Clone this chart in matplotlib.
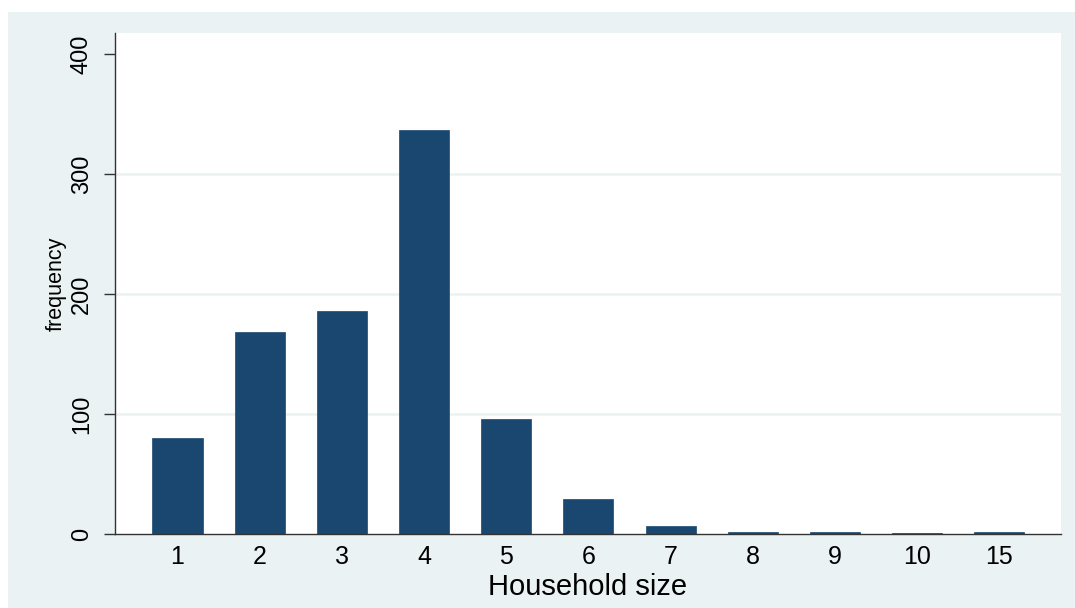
import matplotlib
matplotlib.use("Agg")
import matplotlib.pyplot as plt
from matplotlib.patches import Rectangle

categories = ["1", "2", "3", "4", "5", "6", "7", "8", "9", "10", "15"]
frequency = [80, 168, 186, 337, 96, 29, 7, 2, 2, 1, 2]
yticks = [0, 100, 200, 300, 400]
gridlines = [100, 200, 300]

plt.rcParams['font.family'] = ['Liberation Sans', 'DejaVu Sans']

W, H = 1075, 608
fig = plt.figure(figsize=(W / 100, H / 100), dpi=100)
fig.patch.set_facecolor('white')
bg = '#EAF2F3'
fig.add_artist(Rectangle((8 / W, 0), 1 - 8 / W, (H - 12) / H,
                         transform=fig.transFigure, facecolor=bg,
                         edgecolor='none', zorder=0))

left, right, top, bottom = 115, 1061, 33, 534
ax = fig.add_axes([left / W, (H - bottom) / H, (right - left) / W, (bottom - top) / H])
ax.set_facecolor('white')

pos = list(range(len(categories)))
ax.bar(pos, frequency, width=0.61, color='#1a476f', edgecolor='#1a476f',
       linewidth=0.5, zorder=3)

for g in gridlines:
    ax.axhline(g, color=bg, linewidth=1.8, zorder=1)

ax.set_xlim(-0.76, 10.75)
ax.set_ylim(0, 417.5)
ax.set_xticks(pos)
ax.set_xticklabels(categories, fontsize=18)
ax.set_yticks(yticks)
ax.set_yticklabels([str(v) for v in yticks], fontsize=17, rotation=90,
                   va='center')
ax.tick_params(axis='x', length=0, pad=8)
ax.tick_params(axis='y', length=8, width=1, color='#333333', pad=8,
               direction='out')

for s in ['top', 'right']:
    ax.spines[s].set_visible(False)
ax.spines['left'].set_color('#333333')
ax.spines['bottom'].set_color('#333333')
ax.spines['left'].set_linewidth(1)
ax.spines['bottom'].set_linewidth(1)
ax.spines['left'].set_zorder(4)
ax.spines['bottom'].set_zorder(4)

ax.set_xlabel('Household size', fontsize=21, labelpad=3)
ax.set_ylabel('frequency', fontsize=15.5, labelpad=3)

fig.savefig('out.png', dpi=100, facecolor=fig.get_facecolor())
